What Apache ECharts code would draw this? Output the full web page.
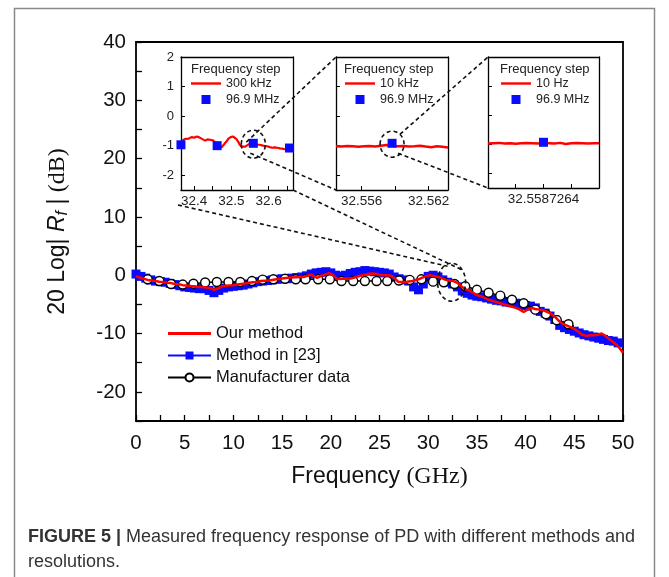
<!DOCTYPE html>
<html><head><meta charset="utf-8">
<script src="https://cdn.jsdelivr.net/npm/echarts@6/dist/echarts.min.js"></script>
<style>html,body{margin:0;padding:0;background:#fff}#c{width:669px;height:577px}</style>
</head><body><div id="c"></div>
<script>
// ---------------- data ----------------
const mainXLabels = [0,5,10,15,20,25,30,35,40,45,50];
const mainXTicks = [0,2.5,5,7.5,10,12.5,15,17.5,20,22.5,25,27.5,30,32.5,35,37.5,40,42.5,45,47.5,50];
const mainYLabels = [-20,-10,0,10,20,30,40];
const mainYTicks = [-25,-20,-15,-10,-5,0,5,10,15,20,25,30,35,40];

const ourMethod = [[0,-0.2],[0.4,-0.4],[0.8,-0.6],[1.2,-0.8],[1.6,-0.9],[2.0,-1.0],[2.4,-1.1],[2.8,-1.15],[3.2,-1.3],[3.6,-1.35],[4.0,-1.5],[4.4,-1.55],[4.8,-1.7],[5.2,-1.75],[5.6,-1.85],[6.0,-1.9],[6.4,-2.0],[6.8,-2.0],[7.2,-2.1],[7.6,-2.2],[8.0,-2.5],[8.2,-2.7],[8.5,-2.2],[8.8,-1.9],[9.2,-1.8],[9.6,-1.75],[10.0,-1.7],[10.4,-1.6],[10.8,-1.5],[11.2,-1.4],[11.6,-1.3],[12.0,-1.2],[12.4,-1.15],[12.8,-1.0],[13.2,-0.95],[13.6,-0.9],[14.0,-0.8],[14.4,-0.7],[14.8,-0.6],[15.2,-0.5],[15.6,-0.45],[16.0,-0.4],[16.4,-0.35],[16.8,-0.3],[17.2,-0.3],[17.6,-0.1],[18.0,0.1],[18.3,-0.2],[18.6,-0.45],[19.0,-0.1],[19.4,0.1],[19.8,0.35],[20.2,0.1],[20.6,-0.6],[21.0,-0.65],[21.4,-0.55],[21.8,-0.6],[22.2,-0.5],[22.6,-0.3],[23.0,-0.1],[23.4,0.05],[23.8,0.2],[24.2,0.3],[24.6,0.25],[25.0,0.1],[25.4,0.0],[25.8,0.0],[26.2,-0.1],[26.6,-0.6],[26.9,-1.1],[27.3,-1.15],[27.8,-1.1],[28.2,-1.05],[28.6,-0.9],[29.0,-0.7],[29.4,-0.4],[29.8,-0.15],[30.2,0.0],[30.6,-0.15],[31.0,-0.3],[31.4,-0.5],[31.8,-0.8],[32.2,-0.95],[32.6,-1.0],[33.0,-1.3],[33.4,-1.9],[33.8,-2.4],[34.2,-2.6],[34.6,-3.0],[35.0,-3.4],[35.4,-3.6],[35.8,-3.9],[36.2,-4.2],[36.6,-4.4],[37.0,-4.6],[37.4,-4.8],[37.8,-5.0],[38.2,-5.2],[38.6,-5.4],[39.0,-5.6],[39.4,-5.9],[39.8,-6.3],[40.2,-5.9],[40.6,-5.6],[41.0,-5.8],[41.4,-5.9],[41.8,-6.0],[42.2,-6.3],[42.6,-6.6],[43.0,-7.1],[43.4,-7.8],[43.8,-8.3],[44.2,-8.6],[44.6,-8.9],[45.0,-9.2],[45.4,-9.7],[45.8,-10.2],[46.2,-10.4],[46.6,-10.3],[47.0,-10.3],[47.4,-10.2],[47.8,-10.0],[48.2,-10.4],[48.6,-11.0],[49.0,-11.5],[49.4,-12.0],[49.7,-12.6],[50.0,-13.3]];

const method23 = [[0,0.2],[0.5,-0.2],[1,-0.5],[1.5,-0.8],[2,-1.0],[2.5,-1.1],[3,-1.2],[3.5,-1.4],[4,-1.6],[4.5,-1.8],[5,-2.0],[5.5,-2.1],[6,-2.2],[6.5,-2.3],[7,-2.3],[7.5,-2.6],[8,-3.0],[8.5,-2.6],[9,-2.2],[9.5,-2.0],[10,-1.9],[10.5,-1.8],[11,-1.7],[11.5,-1.5],[12,-1.3],[12.5,-1.1],[13,-1.0],[13.5,-0.9],[14,-0.8],[14.5,-0.7],[15,-0.6],[15.5,-0.6],[16,-0.5],[16.5,-0.4],[17,-0.3],[17.5,-0.1],[18,0.2],[18.5,0.4],[19,0.5],[19.5,0.6],[20,0.4],[20.5,0.0],[21,-0.2],[21.5,0.0],[22,0.3],[22.5,0.5],[23,0.6],[23.5,0.8],[24,0.7],[24.5,0.6],[25,0.5],[25.5,0.4],[26,0.2],[26.5,-0.3],[27,-0.6],[27.5,-0.8],[28,-1.0],[28.5,-2.0],[29,-2.5],[29.5,-1.5],[30,-0.2],[30.5,0.0],[31,-0.3],[31.5,-0.8],[32,-1.2],[32.5,-1.5],[33,-2.0],[33.5,-2.7],[34,-3.1],[34.5,-3.4],[35,-3.6],[35.5,-3.7],[36,-3.9],[36.5,-4.1],[37,-4.3],[37.5,-4.4],[38,-4.6],[38.5,-4.7],[39,-4.8],[39.5,-5.0],[40,-5.2],[40.5,-5.3],[41,-5.6],[41.5,-6.2],[42,-6.5],[42.5,-7.0],[43,-7.6],[43.5,-8.6],[44,-9.0],[44.5,-9.3],[45,-9.6],[45.5,-9.9],[46,-10.2],[46.5,-10.4],[47,-10.6],[47.5,-10.8],[48,-11.0],[48.5,-11.2],[49,-11.3],[49.5,-11.6]];

const manufacturer = [[1.2,-0.7],[2.4,-1.0],[3.6,-1.5],[4.8,-1.6],[5.9,-1.45],[7.1,-1.25],[8.3,-1.15],[9.5,-1.15],[10.7,-1.15],[11.9,-1.0],[13.0,-0.75],[14.1,-0.7],[15.3,-0.6],[16.4,-0.7],[17.4,-0.7],[18.7,-0.7],[19.9,-0.7],[21.1,-1.0],[22.3,-1.0],[23.5,-1.0],[24.7,-1.0],[25.8,-1.0],[27.0,-0.9],[28.1,-0.8],[29.3,-0.7],[30.5,-1.1],[31.6,-1.2],[32.7,-1.5],[33.8,-1.9],[35.0,-2.5],[36.2,-3.0],[37.4,-3.5],[38.6,-4.2],[39.8,-4.8],[41.0,-5.9],[42.1,-6.7],[43.2,-7.7],[44.4,-8.4]];

const inset1XLabels = [32.4,32.5,32.6];
const inset1XTicks = [32.4,32.45,32.5,32.55,32.6,32.65];
const insetYLabels = [-2,-1,0,1,2];
const inset1Red = [[32.366,-0.85],[32.371,-0.80],[32.376,-0.77],[32.380,-0.74],[32.386,-0.76],[32.393,-0.71],[32.400,-0.73],[32.407,-0.69],[32.414,-0.72],[32.421,-0.77],[32.430,-0.83],[32.436,-0.79],[32.443,-0.80],[32.452,-0.83],[32.456,-0.92],[32.461,-1.0],[32.468,-1.03],[32.474,-1.05],[32.479,-0.98],[32.483,-0.91],[32.488,-0.84],[32.492,-0.76],[32.498,-0.71],[32.504,-0.69],[32.509,-0.72],[32.513,-0.77],[32.518,-0.86],[32.522,-0.96],[32.527,-1.03],[32.531,-1.07],[32.537,-1.03],[32.542,-0.99],[32.548,-0.94],[32.555,-0.91],[32.562,-0.94],[32.569,-0.96],[32.575,-0.97],[32.582,-0.99],[32.589,-1.01],[32.596,-1.02],[32.603,-1.05],[32.609,-1.07],[32.616,-1.06],[32.623,-1.07],[32.630,-1.09],[32.636,-1.10],[32.643,-1.12],[32.650,-1.14],[32.657,-1.12],[32.664,-1.10]];
const inset1Blue = [[32.3649,-0.97],[32.4618,-1.0],[32.5587,-0.92],[32.6556,-1.08]];

const inset2XLabels = [32.556,32.562];
const inset2XTicks = [32.556,32.559,32.562];
const inset2Red = [[32.55372,-1.02],[32.55422,-1.03],[32.55472,-1.01],[32.55522,-1.02],[32.55572,-1.04],[32.55622,-1.02],[32.55672,-1.01],[32.55722,-1.03],[32.55772,-1.00],[32.55822,-0.98],[32.55872,-1.00],[32.55922,-1.02],[32.55972,-1.01],[32.56022,-1.03],[32.56072,-1.02],[32.56122,-1.00],[32.56172,-1.03],[32.56222,-1.05],[32.56272,-1.02],[32.56322,-1.04],[32.56372,-1.06]];
const inset2Blue = [[32.5587264,-0.92]];

const inset3XLabels = [32.5587264];
const inset3XTicks = [32.55872615,32.5587264,32.55872665];
const inset3Red = [[32.5587259,-0.97],[32.55872595,-0.96],[32.558726,-0.95],[32.55872605,-0.97],[32.5587261,-0.96],[32.55872615,-0.98],[32.5587262,-0.96],[32.55872625,-0.95],[32.5587263,-0.96],[32.55872635,-0.97],[32.5587264,-0.95],[32.55872645,-0.96],[32.5587265,-0.97],[32.55872655,-0.95],[32.5587266,-0.99],[32.55872665,-0.96],[32.5587267,-0.95],[32.55872675,-0.96],[32.5587268,-0.97],[32.55872685,-0.96],[32.5587269,-0.96]];
const inset3Blue = [[32.5587264,-0.93]];

// ---------------- layout ----------------
const G0 = {left:136, top:42, width:487, height:379};
const G1 = {left:181, top:57, width:112, height:133};
const G2 = {left:336, top:57, width:112, height:133};
const G3 = {left:488, top:57, width:111, height:131};
const RED = '#ff0000', BLUE = '#0a0aff';
const SANS = 'Liberation Sans, Arial, sans-serif';
const SERIF = 'Liberation Serif, Times New Roman, serif';
const LINE_ICON = 'path://M0,0 L40,0 L40,3.2 L0,3.2 Z';
const SQUARE_ICON = 'path://M0,0 L10,0 L10,10 L0,10 Z';

function boxAxes(gi, xmin, xmax, ymin, ymax, xl, xt, yl, showYLabels, xfmt) {
  const line = {show:true, onZero:false, lineStyle:{color:'#000', width:1.3}};
  return {
    x: [
      {gridIndex:gi, type:'value', min:xmin, max:xmax, axisLine:line,
       axisTick:{show:true, inside:true, length:4, customValues:xt, lineStyle:{color:'#000'}},
       axisLabel:{show:true, customValues:xl, margin:4, fontSize:13.5, color:'#222', fontFamily:SANS, formatter:xfmt},
       splitLine:{show:false}},
      {gridIndex:gi, type:'value', position:'top', min:xmin, max:xmax, axisLine:line,
       axisTick:{show:false}, axisLabel:{show:false}, splitLine:{show:false}}
    ],
    y: [
      {gridIndex:gi, type:'value', min:ymin, max:ymax, axisLine:line,
       axisTick:{show:true, inside:true, length:4, customValues:yl, lineStyle:{color:'#000'}},
       axisLabel:{show:showYLabels, customValues:yl, margin:7, fontSize:13, color:'#222', fontFamily:SANS},
       splitLine:{show:false}},
      {gridIndex:gi, type:'value', position:'right', min:ymin, max:ymax, axisLine:line,
       axisTick:{show:false}, axisLabel:{show:false}, splitLine:{show:false}}
    ]
  };
}

const a1 = boxAxes(1, 32.365, 32.665, -2.5, 2, inset1XLabels, inset1XTicks, insetYLabels, true, v => v.toFixed(1));
const a2 = boxAxes(2, 32.55372, 32.56372, -2.5, 2, inset2XLabels, inset2XTicks, insetYLabels, false, v => v.toFixed(3));
const a3 = boxAxes(3, 32.5587259, 32.5587269, -2.5, 2, inset3XLabels, inset3XTicks, insetYLabels, false, v => '32.5587264');

const mainLine = {show:true, onZero:false, lineStyle:{color:'#000', width:1.8}};
function insetLegend(redName, left) {
  return {data:[{name:redName, icon:LINE_ICON}, {name:'96.9 MHz', icon:SQUARE_ICON}], orient:'vertical', left:left, top:72,
    itemWidth:30, itemHeight:9, itemGap:3, symbolKeepAspect:true, textStyle:{fontSize:12.5, fontFamily:SANS, color:'#222'}};
}
const option = {
  animation:false,
  backgroundColor:'#fff',
  grid:[G0,G1,G2,G3].map(g => Object.assign({containLabel:false}, g)),
  xAxis:[
    {gridIndex:0, type:'value', min:0, max:50, axisLine:mainLine,
     axisTick:{show:true, inside:true, length:6, customValues:mainXTicks, lineStyle:{color:'#000', width:1.3}},
     axisLabel:{customValues:mainXLabels, margin:12, fontSize:20.5, color:'#111', fontFamily:SANS},
     splitLine:{show:false},
     name:'{a|Frequency }{t|(GHz)}', nameLocation:'middle', nameGap:44,
     nameTextStyle:{rich:{a:{fontSize:23, fontFamily:SANS, color:'#111'}, t:{fontSize:24, fontFamily:SERIF, color:'#111'}}}},
    {gridIndex:0, type:'value', position:'top', min:0, max:50, axisLine:mainLine, axisTick:{show:false}, axisLabel:{show:false}, splitLine:{show:false}},
    ...a1.x, ...a2.x, ...a3.x
  ],
  yAxis:[
    {gridIndex:0, type:'value', min:-25, max:40, axisLine:mainLine,
     axisTick:{show:true, inside:true, length:6, customValues:mainYTicks, lineStyle:{color:'#000', width:1.3}},
     axisLabel:{customValues:mainYLabels, margin:10, fontSize:20.5, color:'#111', fontFamily:SANS},
     splitLine:{show:false},
     name:'{a|20 Log| }{i|R}{s|f}{a| | }{t|(dB)}', nameLocation:'middle', nameGap:65, nameRotate:90,
     nameTextStyle:{rich:{
       a:{fontSize:23, fontFamily:SANS, color:'#111'},
       i:{fontSize:23, fontFamily:SANS, fontStyle:'italic', color:'#111'},
       s:{fontSize:16, fontFamily:SANS, fontStyle:'italic', color:'#111', padding:[10,0,0,0]},
       t:{fontSize:24, fontFamily:SERIF, color:'#111'}}}},
    {gridIndex:0, type:'value', position:'right', min:-25, max:40, axisLine:mainLine, axisTick:{show:false}, axisLabel:{show:false}, splitLine:{show:false}},
    ...a1.y, ...a2.y, ...a3.y
  ],
  legend:[
    {data:[{name:'Our method', icon:'path://M0,0 L40,0 L40,2.6 L0,2.6 Z'},'Method in [23]','Manufacturer data'], orient:'vertical', left:162, top:320,
     itemWidth:43, itemHeight:10, itemGap:5, symbolKeepAspect:true, textStyle:{fontSize:16.5, fontFamily:SANS, color:'#111'}},
    insetLegend('300 kHz', 186),
    insetLegend('10 kHz', 340),
    insetLegend('10 Hz', 496)
  ],
  series:[
    {name:'Method in [23]', type:'line', xAxisIndex:0, yAxisIndex:0, data:method23, symbol:'rect', symbolSize:9,
     lineStyle:{color:BLUE, width:3}, itemStyle:{color:BLUE}, z:2},
    {name:'Manufacturer data', type:'line', xAxisIndex:0, yAxisIndex:0, data:manufacturer, symbol:'circle', symbolSize:9,
     lineStyle:{color:'#000', width:1.5}, itemStyle:{color:'#fff', borderColor:'#000', borderWidth:1.4}, z:3},
    {name:'Our method', type:'line', xAxisIndex:0, yAxisIndex:0, data:ourMethod, symbol:'none',
     lineStyle:{color:RED, width:2.5}, itemStyle:{color:RED}, z:4},
    {name:'300 kHz', type:'line', xAxisIndex:2, yAxisIndex:2, data:inset1Red, symbol:'none', lineStyle:{color:RED, width:2.2}, itemStyle:{color:RED}},
    {name:'96.9 MHz', type:'scatter', xAxisIndex:2, yAxisIndex:2, data:inset1Blue, symbol:'rect', symbolSize:9, clip:false, itemStyle:{color:BLUE, opacity:1}, z:5},
    {name:'10 kHz', type:'line', xAxisIndex:4, yAxisIndex:4, data:inset2Red, symbol:'none', lineStyle:{color:RED, width:2.5}, itemStyle:{color:RED}},
    {name:'96.9 MHz', type:'scatter', xAxisIndex:4, yAxisIndex:4, data:inset2Blue, symbol:'rect', symbolSize:9, itemStyle:{color:BLUE, opacity:1}, z:5},
    {name:'10 Hz', type:'line', xAxisIndex:6, yAxisIndex:6, data:inset3Red, symbol:'none', lineStyle:{color:RED, width:2.5}, itemStyle:{color:RED}},
    {name:'96.9 MHz', type:'scatter', xAxisIndex:6, yAxisIndex:6, data:inset3Blue, symbol:'rect', symbolSize:9, itemStyle:{color:BLUE, opacity:1}, z:5}
  ]
};

const chart = echarts.init(document.getElementById('c'), null, {renderer:'canvas'});
chart.setOption(option);

// annotations: zoom ellipses and connector lines, anchored to the axes
const e0 = chart.convertToPixel({gridIndex:0}, [32.4, -1.2]);
const e1 = chart.convertToPixel({gridIndex:1}, [inset1Blue[2][0], -0.95]);
const e2 = chart.convertToPixel({gridIndex:2}, [inset2Blue[0][0], -0.95]);
const dash = {stroke:'#111', lineWidth:1.6, lineDash:[4,3], fill:null};
function seg(p, q) { return {type:'line', shape:{x1:p[0], y1:p[1], x2:q[0], y2:q[1]}, style:dash, z:20, silent:true}; }
const g1b = G1.top + G1.height, g2b = G2.top + G2.height, g3b = G3.top + G3.height;
const graphics = [
  {type:'rect', shape:{x:14.5, y:8.5, width:640, height:620}, style:{stroke:'#8a8a8a', lineWidth:1.5, fill:null}, z:0, silent:true},
  {type:'ellipse', shape:{cx:e0[0], cy:e0[1], rx:14, ry:19}, style:dash, z:20, silent:true},
  {type:'ellipse', shape:{cx:e1[0], cy:e1[1], rx:12, ry:14}, style:dash, z:20, silent:true},
  {type:'ellipse', shape:{cx:e2[0], cy:e2[1], rx:12, ry:13}, style:dash, z:20, silent:true},
  seg([G1.left-3, g1b+15], [e0[0]-4, e0[1]-16]),
  seg([G1.left+G1.width, g1b], [e0[0]+11, e0[1]-12]),
  seg([e1[0]-7, e1[1]-2], [G2.left, G2.top]),
  seg([e1[0]-3, e1[1]+9], [G2.left, g2b]),
  seg([e2[0]+8, e2[1]-10], [G3.left, G3.top]),
  seg([e2[0]+6, e2[1]+9], [G3.left, g3b]),
  {type:'text', left:G1.left+10, top:63, style:{text:'Frequency step', fontSize:13, fontFamily:SANS, fill:'#222'}, z:20},
  {type:'text', left:G2.left+8, top:63, style:{text:'Frequency step', fontSize:13, fontFamily:SANS, fill:'#222'}, z:20},
  {type:'text', left:G3.left+12, top:63, style:{text:'Frequency step', fontSize:13, fontFamily:SANS, fill:'#222'}, z:20},
  {type:'text', left:28, top:528, style:{text:'{b|FIGURE 5 |} Measured frequency response of PD with different methods and',
    fontSize:18, fontFamily:SANS, fill:'#333', rich:{b:{fontWeight:'bold', fontSize:18, fontFamily:SANS, fill:'#333'}}}, z:20},
  {type:'text', left:28, top:553, style:{text:'resolutions.', fontSize:18, fontFamily:SANS, fill:'#333'}, z:20}
];
chart.setOption({graphic:graphics});
</script></body></html>
